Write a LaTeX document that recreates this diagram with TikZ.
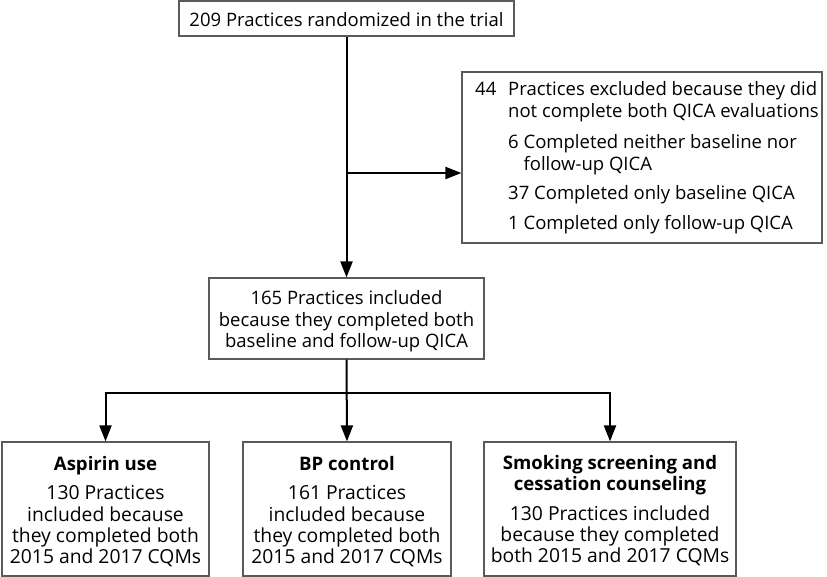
\documentclass[tikz,border=0pt]{standalone}
\usepackage{fontspec}
\setmainfont{Open Sans}
\usetikzlibrary{arrows.meta}
\definecolor{boxgray}{HTML}{5A5A5A}
\newcommand\mainfs{\fontsize{18.5}{21.5}\selectfont}
\newcommand\lowfs{\fontsize{19.3}{21.3}\selectfont}
\newcommand\headfs{\fontsize{18.6}{21.3}\selectfont\bfseries}
\newcommand\mlines[1]{\begin{tabular}[t]{@{}c@{}}#1\end{tabular}}
\tikzset{
  box/.style={draw=boxgray, line width=1.2pt, inner sep=0pt, fill=white},
  txt/.style={inner sep=0pt, anchor=base, font=\mainfs},
  lowtxt/.style={txt, font=\lowfs},
  arr/.style={draw=black, line width=2pt, -{Triangle[length=16pt,width=12pt]}}
}
\begin{document}
\begin{tikzpicture}[x=1pt,y=-1pt]
\useasboundingbox (0,0) rectangle (827,577);
% boxes
\node[box, minimum width=335pt, minimum height=35pt] (top) at (346.5,18.5) {};
\node[box, minimum width=360pt, minimum height=171pt] (excl) at (642,157.5) {};
\node[box, minimum width=275pt, minimum height=81pt] (mid) at (346.5,318.5) {};
\node[box, minimum width=207pt, minimum height=134pt] (asp) at (105.5,509) {};
\node[box, minimum width=208pt, minimum height=134pt] (bp) at (347,509) {};
\node[box, minimum width=252pt, minimum height=134pt] (smk) at (610,509) {};
% texts
\node[txt] (ttop) at (346.5,27) {209 Practices randomized in the trial};
\node[txt, anchor=base west] (texcl) at (475,96) {\begin{tabular}[t]{@{}p{33pt}@{}l@{}}
44 & Practices excluded because they did\\
   & not complete both QICA evaluations\\[10pt]
   & 6 Completed neither baseline nor\\
   & \phantom{6 }follow-up QICA\\[8pt]
   & 37 Completed only baseline QICA\\[8pt]
   & 1 Completed only follow-up QICA
\end{tabular}};
\node[txt] (tmid) at (346.5,305) {\mlines{165 Practices included\\because they completed both\\baseline and follow-up QICA}};
\node[lowtxt] (tasp) at (105.5,470) {\mlines{{\headfs Aspirin use}\\[8.5pt]130 Practices\\included because\\they completed both\\2015 and 2017 CQMs}};
\node[lowtxt] (tbp) at (347,470) {\mlines{{\headfs BP control}\\[8.5pt]161 Practices\\included because\\they completed both\\2015 and 2017 CQMs}};
\node[lowtxt] (tsmk) at (610,469) {\mlines{{\headfs Smoking screening and}\\{\headfs cessation counseling}\\[8.5pt]130 Practices included\\because they completed\\both 2015 and 2017 CQMs}};
% connectors
\coordinate (j1) at (346.5,173);
\coordinate (j2) at (346.5,393);
\draw[arr] (top.south) -- (mid.north);
\draw[arr] (j1) -- (j1 -| excl.west);
\draw[arr] (mid.south) -- (bp.north);
\draw[arr] (j2) -| (asp.north);
\draw[arr] (j2) -| (smk.north);
\end{tikzpicture}
\end{document}
